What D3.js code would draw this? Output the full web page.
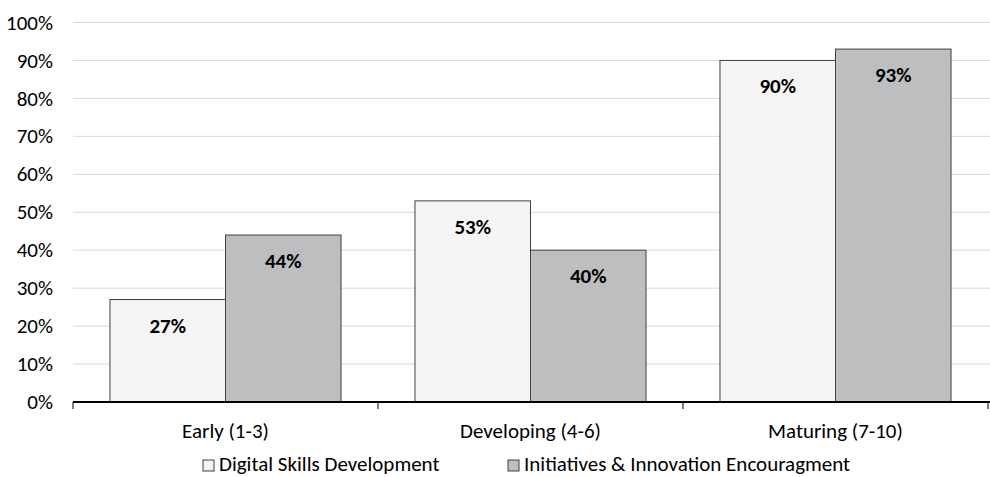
<!DOCTYPE html>
<html><head><meta charset="utf-8">
<script src="https://cdn.jsdelivr.net/npm/d3@7"></script>
<style>body{margin:0;background:#fff}svg{display:block}text{font-family:Carlito,Lato,"Open Sans",sans-serif}</style>
</head><body><svg id="c" width="990" height="477"></svg>
<script>
const categories = ["Early (1-3)", "Developing (4-6)", "Maturing (7-10)"];
const seriesNames = ["Digital Skills Development", "Initiatives & Innovation Encouragment"];
const digitalSkills = [27, 53, 90];
const initiatives = [44, 40, 93];
const yTicks = [0,10,20,30,40,50,60,70,80,90,100];
const colors = ["#f4f4f4", "#bdbebf"];

(function(){
const svg = d3.select("#c");
const mLeft = 73, mRight = 988, mTop = 22.5, mBottom = 402;
const x = d3.scaleBand().domain(categories).range([mLeft, mRight]).paddingInner(0).paddingOuter(0);
const inner = d3.scaleBand().domain([0,1]).range([0, x.bandwidth()]).paddingInner(0).paddingOuter(0.32);
const y = d3.scaleLinear().domain([0,100]).range([mBottom, mTop]);

svg.append("g").selectAll("line").data(yTicks.filter(d=>d>0)).join("line")
  .attr("x1", mLeft).attr("x2", 990).attr("y1", d=>y(d)).attr("y2", d=>y(d))
  .attr("stroke", "#d9d9d9").attr("stroke-width", 1);

svg.append("g").selectAll("text").data(yTicks).join("text")
  .attr("x", 53).attr("y", d=>y(d)).attr("dy", "0.34em").attr("text-anchor", "end")
  .attr("font-size", 21).attr("fill", "#000").text(d=>d+"%");

const data = categories.map((c,i)=>({c, vals:[digitalSkills[i], initiatives[i]]}));
const g = svg.append("g");
data.forEach(d=>{
  d.vals.forEach((v,j)=>{
    const bx = x(d.c) + inner(j);
    g.append("rect").attr("x", bx).attr("y", y(v)).attr("width", inner.bandwidth()).attr("height", y(0)-y(v))
      .attr("fill", colors[j]).attr("stroke", "#404040").attr("stroke-width", 1);
    g.append("text").attr("x", bx + inner.bandwidth()/2).attr("y", y(v)+33)
      .attr("text-anchor", "middle").attr("font-size", 21).attr("font-weight", "bold").attr("fill", "#000")
      .text(v+"%");
  });
});

svg.append("line").attr("x1", mLeft).attr("x2", 990).attr("y1", mBottom).attr("y2", mBottom)
  .attr("stroke", "#000").attr("stroke-width", 2);
const bounds = [0,1,2,3].map(i=> i<3 ? x(categories[i]) : mRight);
svg.append("g").selectAll("line").data(bounds).join("line")
  .attr("x1", d=>d).attr("x2", d=>d).attr("y1", mBottom).attr("y2", mBottom+7)
  .attr("stroke", "#000").attr("stroke-width", 1);
svg.append("g").selectAll("text").data(categories).join("text")
  .attr("x", d=>x(d)+x.bandwidth()/2).attr("y", 438).attr("text-anchor", "middle")
  .attr("font-size", 21).attr("fill", "#000").text(d=>d);

const leg = svg.append("g");
const legX = [203, 508];
seriesNames.forEach((n,i)=>{
  leg.append("rect").attr("x", legX[i]).attr("y", 460).attr("width", 11).attr("height", 11)
    .attr("fill", colors[i]).attr("stroke", "#404040").attr("stroke-width", 1);
  leg.append("text").attr("x", legX[i]+16).attr("y", 471).attr("font-size", 21).attr("fill", "#000").text(n);
});
})();
</script></body></html>
